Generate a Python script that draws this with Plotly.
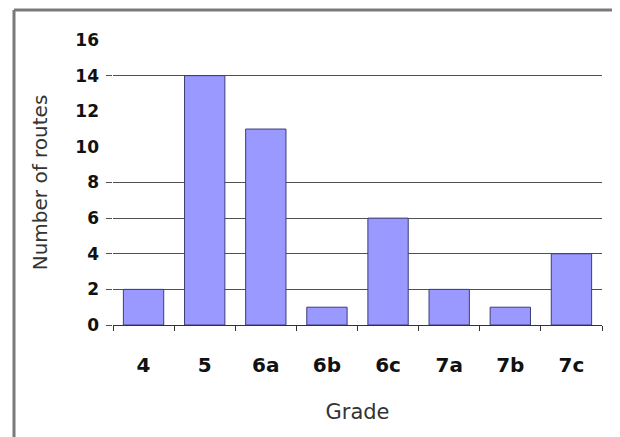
import plotly.graph_objects as go

grades = ["4", "5", "6a", "6b", "6c", "7a", "7b", "7c"]
routes = [2, 14, 11, 1, 6, 2, 1, 4]
y_tick_labels = [0, 2, 4, 6, 8, 10, 12, 14, 16]
grid_values = [0, 2, 4, 6, 8, 14]

# the page is drawn with an 8px body offset inside a 620x437 window
OFF = 8
W, H = 620 - OFF, 437 - OFF
ml, mr, mt, mb = 113 - OFF, 18, 40 - OFF, 112
pw, ph = W - ml - mr, H - mt - mb

def px_x(p):
    return (p - OFF - ml) / pw

def px_y(p):
    return (H - mb - (p - OFF)) / ph

fig = go.Figure()
fig.add_trace(go.Bar(
    x=grades, y=routes,
    marker=dict(color="#9999ff", line=dict(color="#3c3c7a", width=1)),
    yaxis="y",
    hoverinfo="skip",
))
# empty trace so that the grid axis is rendered
fig.add_trace(go.Scatter(x=[], y=[], yaxis="y2", showlegend=False, hoverinfo="skip"))

fig.update_layout(
    width=W, height=H,
    margin=dict(l=ml, r=mr, t=mt, b=mb),
    paper_bgcolor="white", plot_bgcolor="white",
    showlegend=False,
    bargap=0.34,
    font=dict(family="DejaVu Sans", color="#111111"),
    xaxis=dict(
        type="category",
        showline=True, linecolor="#333333", linewidth=1,
        ticks="outside", tickson="boundaries", ticklen=5, tickcolor="#333333",
        tickfont=dict(family="DejaVu Sans", size=20, weight="bold", color="#111111"),
        ticklabelstandoff=22,
        showgrid=False,
        title=dict(text="Grade", font=dict(family="DejaVu Sans", size=21, color="#333333"), standoff=28),
    ),
    yaxis=dict(
        range=[0, 16],
        tickvals=y_tick_labels,
        showgrid=False, zeroline=False, showline=False,
        ticks="",
        tickfont=dict(family="DejaVu Sans", size=17, weight="bold", color="#111111"),
        ticklabelstandoff=13,
        title=dict(text="Number of routes", font=dict(family="DejaVu Sans", size=20, color="#333333"), standoff=22),
    ),
    yaxis2=dict(
        range=[0, 16], overlaying="y", anchor="x", side="left",
        tickvals=grid_values,
        showticklabels=False,
        showgrid=True, gridcolor="#505050", gridwidth=1,
        zeroline=False, showline=False,
        ticks="outside", ticklen=6, tickcolor="#505050",
    ),
    shapes=[
        dict(type="line", xref="paper", yref="paper",
             x0=px_x(14), x1=px_x(14), y0=px_y(10), y1=px_y(437),
             line=dict(color="#7a7a7a", width=3)),
        dict(type="line", xref="paper", yref="paper",
             x0=px_x(14), x1=px_x(620), y0=px_y(10), y1=px_y(10),
             line=dict(color="#7a7a7a", width=3)),
    ],
)

fig.write_html("out.html", config={"displayModeBar": False})
